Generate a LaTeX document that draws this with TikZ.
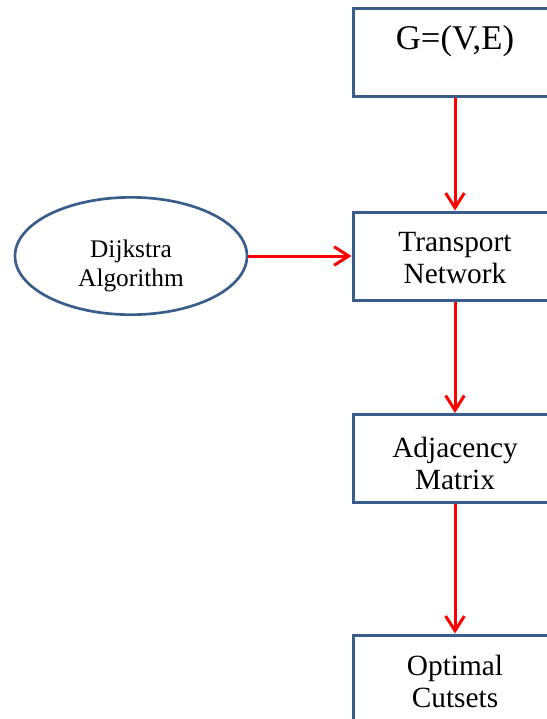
\documentclass[tikz,border=0pt]{standalone}
\usepackage{fontspec}
\setmainfont{Liberation Serif}
\usetikzlibrary{arrows.meta,shapes.geometric}
\definecolor{outline}{HTML}{385D8A}
\begin{document}
\begin{tikzpicture}[x=0.75pt,y=-0.75pt,
  stepbox/.style={draw=outline, line width=2.25pt, fill=white, rectangle,
    minimum width=153pt, minimum height=66pt, inner sep=0pt},
  algo/.style={draw=outline, line width=2pt, fill=white, ellipse,
    minimum width=174pt, minimum height=88pt, inner sep=0pt},
  boxtext/.style={align=center, inner sep=0pt, font=\fontsize{22}{24}\selectfont},
  flow/.style={draw=red, line width=2.25pt,
    -{Straight Barb[length=11pt,width=14pt,line width=2.25pt]}}]
\useasboundingbox (0,0) rectangle (547,719);
\clip (0,0) rectangle (547,719);
\fill[white] (0,0) rectangle (547,719);

% main chain of boxes
\node[stepbox] (graph) at (455,52.5) {};
\node[boxtext, font=\fontsize{26}{28}\selectfont] (graphtxt) at (455,41) {G=(V,E)};

\node[stepbox] (transport) at (455,256) {};
\node[boxtext] (transporttxt) at (455,258) {Transport\\Network};

\node[stepbox] (adjacency) at (455,458.5) {};
\node[boxtext] (adjacencytxt) at (455,463) {Adjacency\\Matrix};

\node[stepbox] (cutsets) at (455,679) {};
\node[boxtext] (cutsetstxt) at (455,681) {Optimal\\Cutsets};

% algorithm feeding the network
\node[algo] (dijkstra) at (131,256) {};
\node[align=center, inner sep=0pt, font=\fontsize{19}{21.75}\selectfont] (dijkstratxt) at (131,266) {Dijkstra\\Algorithm};

% connectors
\draw[flow] (graph.south) -- (transport.north);
\draw[flow] (transport.south) -- (adjacency.north);
\draw[flow] (adjacency.south) -- (cutsets.north);
\draw[flow] (dijkstra.east) -- (transport.west);
\end{tikzpicture}
\end{document}
